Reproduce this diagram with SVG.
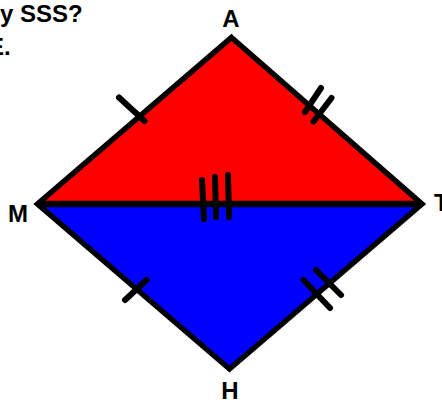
<svg xmlns="http://www.w3.org/2000/svg" width="442" height="403" viewBox="0 0 442 403">
<style>
  .lbl { font-family: "Liberation Sans", Arial, sans-serif; font-weight: bold; font-size: 24px; fill: #000; }
  .edge { fill: none; stroke: #000; stroke-width: 5.5; stroke-linejoin: miter; }
  .tick { fill: none; stroke: #000; stroke-width: 6; stroke-linecap: round; }
</style>
<rect x="0" y="0" width="442" height="403" fill="#fff"/>
<g id="caption">
  <text class="lbl" x="0" y="22">y SSS?</text>
  <text class="lbl" x="-12" y="55">E.</text>
</g>
<g id="triangle-MAT">
  <polygon points="231.5,37.5 37.5,204 422,204" fill="#ff0000"/>
</g>
<g id="triangle-MHT">
  <polygon points="37.5,204 229.5,369 422,204" fill="#0000ff"/>
</g>
<g id="connectors">
  <polygon class="edge" points="231.5,37.5 422,204 229.5,369 37.5,204"/>
  <line x1="37.5" y1="204" x2="422" y2="204" stroke="#000" stroke-width="6.5"/>
</g>
<g id="ticks">
  <line class="tick" x1="119" y1="97.5" x2="144.5" y2="121"/>
  <line class="tick" x1="321" y1="88" x2="305" y2="112"/>
  <line class="tick" x1="331.5" y1="98" x2="313.5" y2="121.5"/>
  <line class="tick" x1="202" y1="180" x2="204" y2="219"/>
  <line class="tick" x1="215" y1="177" x2="216" y2="217"/>
  <line class="tick" x1="228" y1="175" x2="229" y2="217"/>
  <line class="tick" x1="146.5" y1="280" x2="125" y2="300"/>
  <line class="tick" x1="303.5" y1="280" x2="330" y2="308"/>
  <line class="tick" x1="316" y1="270" x2="341" y2="295"/>
</g>
<g id="vertex-A"><text class="lbl" x="231" y="27" text-anchor="middle">A</text></g>
<g id="vertex-M"><text class="lbl" x="8" y="222">M</text></g>
<g id="vertex-T"><text class="lbl" x="434" y="211">T</text></g>
<g id="vertex-H"><text class="lbl" x="230" y="399" text-anchor="middle">H</text></g>
</svg>
